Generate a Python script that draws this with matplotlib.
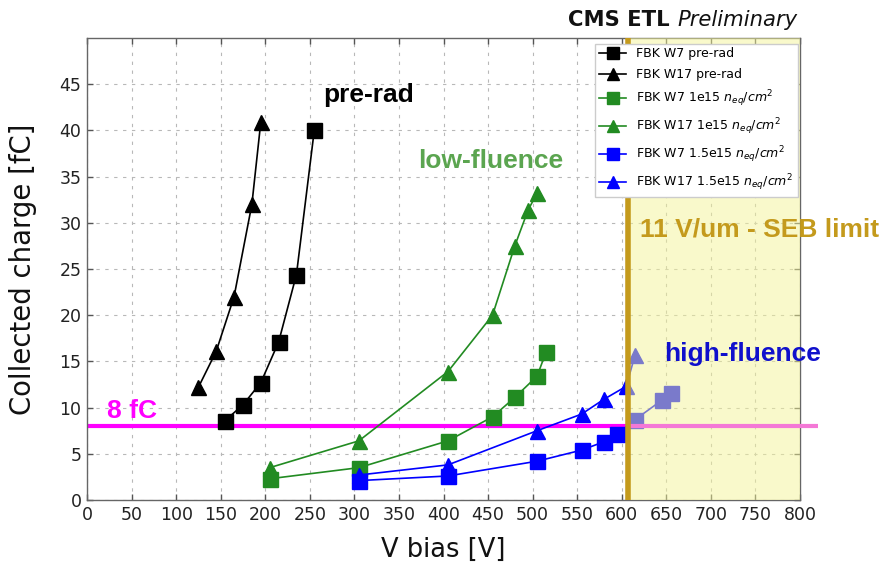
import matplotlib
matplotlib.use('Agg')
import matplotlib.pyplot as plt

# ---- data ----
w7_pre_v = [155, 175, 195, 215, 235, 255]
w7_pre_q = [8.6, 10.3, 12.7, 17.1, 24.4, 40.0]
w17_pre_v = [125, 145, 165, 185, 195]
w17_pre_q = [12.2, 16.1, 22.0, 32.0, 40.9]
w7_1e15_v = [205, 305, 405, 455, 480, 505, 515]
w7_1e15_q = [2.3, 3.5, 6.4, 9.0, 11.1, 13.4, 16.0]
w17_1e15_v = [205, 305, 405, 455, 480, 495, 505]
w17_1e15_q = [3.5, 6.4, 13.9, 20.0, 27.5, 31.4, 33.2]
w7_15e15_v = [305, 405, 505, 555, 580, 595, 615, 645, 655]
w7_15e15_q = [2.1, 2.6, 4.2, 5.4, 6.3, 7.1, 8.7, 10.8, 11.6]
w17_15e15_v = [305, 405, 505, 555, 580, 605, 615]
w17_15e15_q = [2.7, 3.8, 7.5, 9.3, 10.9, 12.3, 15.7]

labels = ['FBK W7 pre-rad', 'FBK W17 pre-rad',
          r'FBK W7 1e15 $n_{eq}/cm^2$', r'FBK W17 1e15 $n_{eq}/cm^2$',
          r'FBK W7 1.5e15 $n_{eq}/cm^2$', r'FBK W17 1.5e15 $n_{eq}/cm^2$']

threshold_fc = 8.0
seb_limit_v = 607
x_max = 800
y_max = 50
x_ticks = list(range(0, 801, 50))
y_ticks = list(range(0, 46, 5))

# ---- styling ----
BLACK = '#000000'
GREEN = '#228b22'
BLUE = '#0000ff'
GOLD = '#c49a1c'
MAGENTA = '#ff00ff'
PINK = '#f478d6'

fig = plt.figure(figsize=(8.86, 5.71), dpi=100)
ax = fig.add_axes([87 / 886, 71 / 571, 713 / 886, 462 / 571])

ms = 10.8
lw = 1.2
series = [
    (w7_pre_v, w7_pre_q, 's', BLACK),
    (w17_pre_v, w17_pre_q, '^', BLACK),
    (w7_1e15_v, w7_1e15_q, 's', GREEN),
    (w17_1e15_v, w17_1e15_q, '^', GREEN),
    (w7_15e15_v, w7_15e15_q, 's', BLUE),
    (w17_15e15_v, w17_15e15_q, '^', BLUE),
]
for (v, q, m, c), lab in zip(series, labels):
    ax.plot(v, q, marker=m, color=c, ms=ms, lw=lw, label=lab, zorder=2)

# 8 fC threshold line
ax.plot([0, seb_limit_v], [threshold_fc, threshold_fc], color=MAGENTA, lw=3,
        zorder=1.5, solid_capstyle='butt')
ax.plot([seb_limit_v, 820], [threshold_fc, threshold_fc], color=PINK, lw=3,
        zorder=3.5, clip_on=False, solid_capstyle='butt')

# SEB region
ax.axvspan(seb_limit_v, x_max, color='#f5f599', alpha=0.5, lw=0, zorder=3)
ax.axvline(seb_limit_v, color=GOLD, lw=4, zorder=4)

ax.set_xlim(0, x_max)
ax.set_ylim(0, y_max)
ax.set_xticks(x_ticks)
ax.set_yticks(y_ticks)
ax.grid(True, color='#b8b8b8', linestyle=(0, (3, 5)), lw=0.8, zorder=0)
ax.set_axisbelow(True)

for s in ax.spines.values():
    s.set_color('#666666')
    s.set_linewidth(1.0)
ax.tick_params(direction='in', top=True, right=True, length=4.5, width=1.0,
               color='#555555', labelsize=12.5, labelcolor='#222222', pad=4)

ax.set_xlabel('V bias [V]', fontsize=18.5, color='#111111', labelpad=10)
ax.set_ylabel('Collected charge [fC]', fontsize=19.8, color='#111111', labelpad=16.5)

ann = dict(family='Liberation Sans', fontweight='bold', fontsize=19, va='baseline', zorder=6)
ax.text(265, 43.1, 'pre-rad', color=BLACK, **ann)
ax.text(372, 35.9, 'low-fluence', color='#5ba550', **ann)
ax.text(621, 28.5, '11 V/um - SEB limit', color=GOLD, clip_on=False, **ann)
ax.text(647, 15.0, 'high-fluence', color='#1010cc', **ann)
ax.text(22, 8.9, '8 fC', color=MAGENTA, **ann)

t = ax.text(0.996, 1.0 + 12 / 462, 'Preliminary', transform=ax.transAxes,
            ha='right', va='baseline', fontsize=15.2, style='italic', color='#111111')
ax.annotate('CMS ETL ', xy=(0, 0), xycoords=t, ha='right', va='bottom',
            fontsize=15.2, fontweight='bold', color='#111111')

leg = ax.legend(loc='upper right', bbox_to_anchor=(1.0, 0.993), fontsize=9,
                frameon=True, fancybox=False, edgecolor='#cccccc', framealpha=1,
                labelspacing=0.6, handlelength=2.2, markerscale=0.85,
                borderaxespad=0.2, borderpad=0.3)
leg.set_zorder(10)

fig.savefig('out.png', dpi=100)
